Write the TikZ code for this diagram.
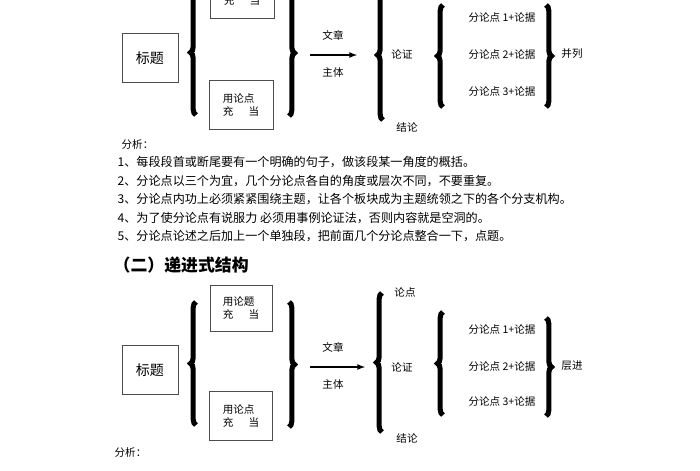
\documentclass[tikz,border=0pt]{standalone}
\usepackage{fontspec}
\setmainfont{Noto Sans CJK SC}
\usepackage{xcolor}
\usetikzlibrary{decorations.pathreplacing}

\begin{document}
\begin{tikzpicture}[x=0.025cm, y=-0.025cm, font=\fontsize{7.5}{9}\selectfont,
  bigbrace/.style={decorate, decoration={brace, amplitude=4pt}, line width=3.6pt},
  lbl/.style={inner sep=1pt}]
  \clip (0,0) rectangle (700,470);
  \useasboundingbox (0,0) rectangle (700,470);

  % first structure
  \node[draw=black!70, line width=0.7pt, minimum width=1.4cm, minimum height=1.22cm, font=\fontsize{10}{11}\selectfont] (ta) at (150,58) {标题};
  \draw[bigbrace] (196,115) -- (196,-10);
  \node[draw=black!70, line width=0.7pt, minimum width=1.6cm, minimum height=1.22cm, align=left] (pa) at (242,-6) {用论题\\充\quad\ \ 当};
  \node[draw=black!70, line width=0.7pt, minimum width=1.6cm, minimum height=1.22cm, align=left] (qa) at (241,105) {用论点\\充\quad\ \ 当};
  \draw[bigbrace] (289,-10) -- (289,116);
  \coordinate (sa) at (310,55);
  \coordinate (ea) at (357,55);
  \draw[-latex, line width=0.9pt] (sa) -- (ea);
  \node[lbl] (wa) at (333,35) {文章};
  \node[lbl] (za) at (333,72) {主体};
  \draw[bigbrace] (383,120) -- (383,-10);
  \node[lbl] (la) at (402,54) {论证};
  \node[lbl] (ja) at (407,127) {结论};
  \draw[bigbrace] (443,107) -- (443,5);
  \foreach \y [count=\i] in {17,54,91}{
    \node[lbl] (fa\i) at (502,\y) {分论点 \i+论据};
  }
  \draw[bigbrace] (546,5) -- (546,107);
  \node[lbl] (ba) at (572,54) {并列};

  \node[lbl, anchor=west] (xa) at (120,145) {分析：};
  \foreach \t [count=\i] in {每段段首或断尾要有一个明确的句子，做该段某一角度的概括。,
      分论点以三个为宜，几个分论点各自的角度或层次不同，不要重复。,
      分论点内功上必须紧紧围绕主题，让各个板块成为主题统领之下的各个分支机构。,
      为了使分论点有说服力 必须用事例论证法，否则内容就是空洞的。,
      分论点论述之后加上一个单独段，把前面几个分论点整合一下，点题。}{
    \node[lbl, anchor=west, font=\fontsize{8.6}{10}\selectfont] (ya\i) at (116,144+18.5*\i) {\i、\t};
  }

  % second structure
  \node[lbl, anchor=west, font=\fontsize{12}{14}\selectfont\bfseries] (hb) at (112,265) {（二）递进式结构};
  \node[draw=black!70, line width=0.7pt, minimum width=1.4cm, minimum height=1.22cm, font=\fontsize{10}{11}\selectfont] (tb) at (150,370) {标题};
  \draw[bigbrace] (196,425) -- (196,302);
  \node[draw=black!70, line width=0.7pt, minimum width=1.55cm, minimum height=1.15cm, align=left] (pb) at (241,308) {用论题\\充\quad\ \ 当};
  \node[draw=black!70, line width=0.7pt, minimum width=1.58cm, minimum height=1.22cm, align=left] (qb) at (241,416) {用论点\\充\quad\ \ 当};
  \draw[bigbrace] (289,302) -- (289,427);
  \coordinate (sb) at (310,367);
  \coordinate (eb) at (365,367);
  \draw[-latex, line width=0.9pt] (sb) -- (eb);
  \node[lbl] (wb) at (333,347) {文章};
  \node[lbl] (zb) at (333,384) {主体};
  \draw[bigbrace] (382,432) -- (382,293);
  \node[lbl] (db) at (405,292) {论点};
  \node[lbl] (lb) at (402,367) {论证};
  \node[lbl] (jb) at (407,438) {结论};
  \draw[bigbrace] (443,415) -- (443,312);
  \foreach \y [count=\i] in {329,366,401}{
    \node[lbl] (fb\i) at (502,\y) {分论点 \i+论据};
  }
  \draw[bigbrace] (546,318) -- (546,416);
  \node[lbl] (bb) at (572,366) {层进};
  \node[lbl, anchor=west] (xb) at (113,452) {分析：};
\end{tikzpicture}
\end{document}
